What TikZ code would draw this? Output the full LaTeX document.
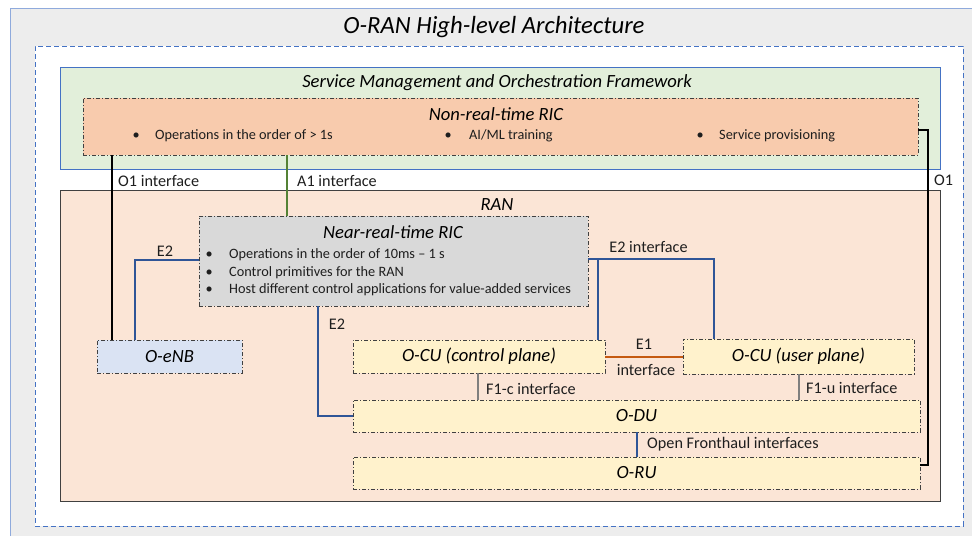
\documentclass[tikz,border=0pt]{standalone}
\usepackage{fontspec}
\setmainfont{Carlito}
\definecolor{outerfill}{HTML}{EDEDED}
\definecolor{outerline}{HTML}{8FAADC}
\definecolor{dashblue}{HTML}{4472C4}
\definecolor{smofill}{HTML}{E2EFDA}
\definecolor{nonrtfill}{HTML}{F8CBAD}
\definecolor{ranfill}{HTML}{FBE5D6}
\definecolor{nrtfill}{HTML}{D9D9D9}
\definecolor{enbfill}{HTML}{DAE3F3}
\definecolor{ylfill}{HTML}{FFF2CC}
\definecolor{e2blue}{HTML}{2F5597}
\definecolor{a1green}{HTML}{548235}
\definecolor{e1orange}{HTML}{C55A11}
\definecolor{f1grey}{HTML}{7F7F7F}
\definecolor{txt}{HTML}{1E1E1E}
\newcommand{\bul}[1]{\makebox[#1][l]{\textbullet}}
\tikzset{
  box/.style={draw=black!75, line width=0.7pt, dash pattern=on 4pt off 2pt on 1pt off 2pt, inner sep=0pt, outer sep=0pt, text=black},
  big/.style={font=\fontsize{24.7}{28}\selectfont\itshape},
  head/.style={font=\fontsize{18.6}{22}\selectfont\itshape},
  body/.style={font=\fontsize{14.3}{17}\selectfont, text=txt, inner sep=0pt},
  lbl/.style={font=\fontsize{16.2}{19}\selectfont, text=txt, inner sep=0pt},
  o1line/.style={draw=black, line width=2pt},
  e2line/.style={draw=e2blue, line width=2pt},
  a1line/.style={draw=a1green, line width=2pt},
  e1line/.style={draw=e1orange, line width=2pt},
  f1line/.style={draw=f1grey, line width=2pt},
}
\begin{document}
\begin{tikzpicture}[x=1pt,y=-1pt]
\useasboundingbox (0,0) rectangle (972,536);
% outer grey area
\fill[outerfill] (10,8) rectangle (972,536);
\draw[outerline, line width=0.8pt] (10,536) -- (10,8) -- (972,8);
\node[big, anchor=center] (title) at (494,27) {O-RAN High-level Architecture};
% dashed frame
\node[draw=dashblue, fill=white, dash pattern=on 5pt off 3pt, line width=0.8pt, minimum width=928pt, minimum height=480pt, inner sep=0pt] (frame) at (499,286) {};
% SMO
\node[draw=dashblue, fill=smofill, line width=0.6pt, minimum width=880pt, minimum height=102pt, inner sep=0pt] (smo) at (500,118) {};
\node[head] (smot) at (497,83) {Service Management and Orchestration Framework};
% Non-RT RIC
\node[box, fill=nonrtfill, minimum width=835pt, minimum height=57pt] (nonrt) at (500.5,126.5) {};
\node[head] (nonrtt) at (496,114) {Non-real-time RIC};
\node[body, anchor=west] (b1) at (132.5,136) {\bul{22.5pt}Operations in the order of > 1s};
\node[body, anchor=west] (b2) at (444.5,136) {\bul{24.5pt}AI/ML training};
\node[body, anchor=west] (b3) at (696.5,136) {\bul{22.5pt}Service provisioning};
% RAN
\node[draw=black!75, fill=ranfill, line width=0.8pt, minimum width=880pt, minimum height=311pt, inner sep=0pt] (ran) at (500,345.5) {};
\node[head] (rant) at (497,205) {RAN};
% Near-RT RIC
\node[box, fill=nrtfill, minimum width=389pt, minimum height=90pt] (nrt) at (393.5,261) {};
\node[head] (nrtt) at (393,232) {Near-real-time RIC};
\node[body, anchor=west] (n1) at (205.5,255) {\bul{23.5pt}Operations in the order of 10ms -- 1 s};
\node[body, anchor=west] (n2) at (205.5,272.5) {\bul{23.5pt}Control primitives for the RAN};
\node[body, anchor=west] (n3) at (205.5,290) {\bul{23.5pt}Host different control applications for value-added services};
% RAN nodes
\node[box, fill=enbfill, minimum width=145pt, minimum height=33pt, head] (oenb) at (169.5,356.5) {O-eNB};
\node[box, fill=ylfill, minimum width=252pt, minimum height=33pt, head] (ocuc) at (479,356.5) {O-CU (control plane)};
\node[box, fill=ylfill, minimum width=231pt, minimum height=35pt, head] (ocuu) at (798.5,356.5) {O-CU (user plane)};
\node[box, fill=ylfill, minimum width=567pt, minimum height=32pt, head] (odu) at (636.5,416) {O-DU};
\node[box, fill=ylfill, minimum width=567pt, minimum height=32pt, head] (oru) at (636.5,473) {O-RU};
% connectors
\coordinate (o1x) at (112,0);
\coordinate (a1x) at (287,0);
\coordinate (e2lx) at (135,0);
\coordinate (e2ly) at (0,260);
\coordinate (e2mx) at (318,0);
\coordinate (e2ry) at (0,259);
\coordinate (e2rx) at (714,0);
\coordinate (e2bx) at (598,0);
\coordinate (o1ry) at (0,129.5);
\coordinate (o1rx) at (928,0);
\coordinate (o1ey) at (0,465);
\coordinate (f1cx) at (478,0);
\coordinate (f1ux) at (799,0);
\coordinate (fhx) at (637,0);
\draw[o1line] (nonrt.south -| o1x) -- (oenb.north -| o1x);
\draw[a1line] (nonrt.south -| a1x) -- (nrt.north -| a1x);
\draw[o1line] (nonrt.east |- o1ry) -| (o1rx |- o1ey) -- (oru.east |- o1ey);
\draw[e2line] (nrt.west |- e2ly) -| (oenb.north -| e2lx);
\draw[e2line] (nrt.south -| e2mx) |- (odu.west);
\draw[e2line] (nrt.east |- e2ry) -| (ocuu.north -| e2rx);
\draw[e2line] (e2bx |- e2ry) -- (ocuc.north -| e2bx);
\draw[e1line] (ocuc.east) -- (ocuu.west);
\draw[f1line] (ocuc.south -| f1cx) -- (odu.north -| f1cx);
\draw[f1line] (ocuu.south -| f1ux) -- (odu.north -| f1ux);
\draw[e2line] (odu.south -| fhx) -- (oru.north -| fhx);
% labels
\node[lbl, anchor=west] (lo1) at (118,181) {O1 interface};
\node[lbl, anchor=west] (la1) at (297,181) {A1 interface};
\node[lbl, anchor=west] (lo1r) at (934,180) {O1};
\node[lbl] (le2a) at (165,251) {E2};
\node[lbl] (le2b) at (337,324) {E2};
\node[lbl] (le2c) at (648.5,247) {E2 interface};
\node[lbl] (le1) at (644,344) {E1};
\node[lbl] (le1b) at (646,370) {interface};
\node[lbl, anchor=west] (lf1c) at (486,389) {F1-c interface};
\node[lbl, anchor=west] (lf1u) at (806,388) {F1-u interface};
\node[lbl, anchor=west] (lfh) at (647,444) {Open Fronthaul interfaces};
\end{tikzpicture}
\end{document}
